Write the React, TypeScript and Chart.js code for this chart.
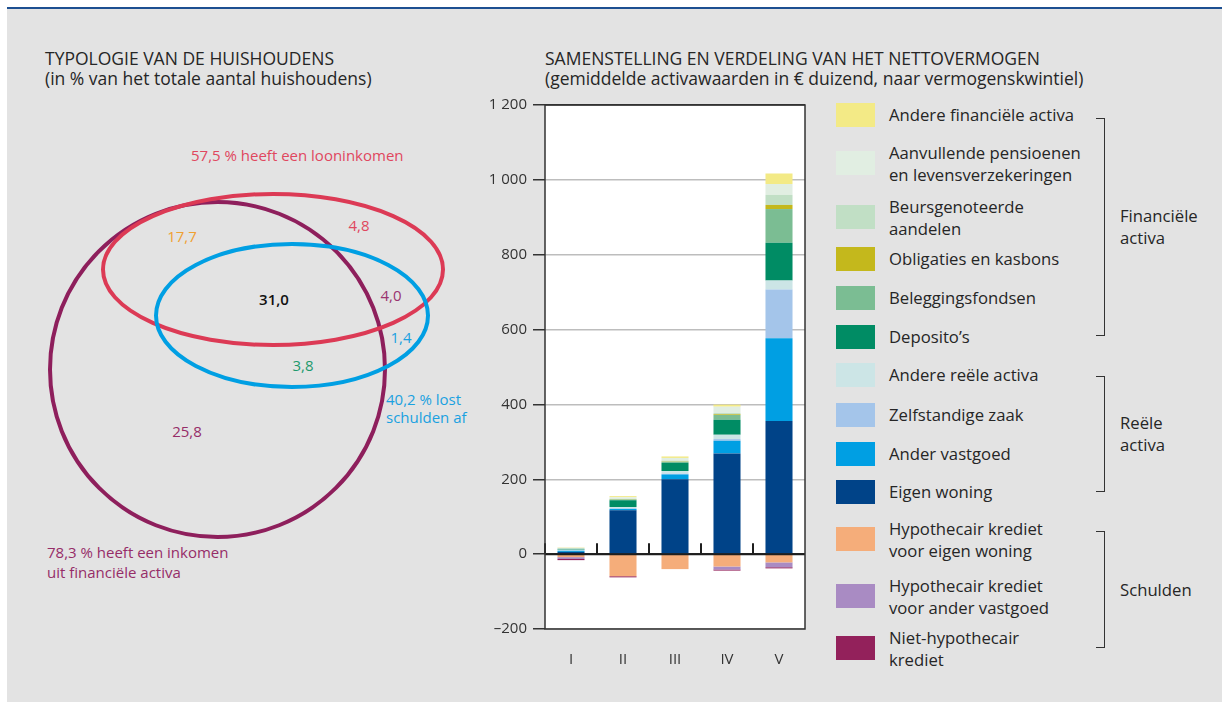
import React, { useEffect, useRef } from 'react';
import { Chart, registerables } from 'chart.js';

Chart.register(...registerables);

const FONT = '"Open Sans", "Noto Sans", sans-serif';
const INK = '#262626';

// Wealth quintiles on the category axis
const quintiles = ['I', 'II', 'III', 'IV', 'V'];

// Average asset values (€ thousand) per quintile, stacked upwards from zero
const eigenWoning = [6, 117, 200, 269, 356];
const anderVastgoed = [3, 4, 13, 34, 221];
const zelfstandigeZaak = [1, 1, 2, 4.5, 130];
const andereReeleActiva = [2, 4, 7, 11.5, 24];
const depositos = [2, 18, 22, 40, 101];
const beleggingsfondsen = [0.5, 2, 3, 13, 90];
const obligaties = [0, 1, 1, 2, 11];
const beursgenoteerdeAandelen = [0.5, 1, 2, 3, 27];
const aanvullendePensioenen = [2, 4, 7, 17, 29];
const andereFinancieleActiva = [1, 3, 4, 5.5, 28];

// Debts (€ thousand), stacked downwards from zero
const hypoEigenWoning = [-8, -59, -40, -33, -22];
const hypoAnderVastgoed = [-5, 0, 0, -8, -13];
const nietHypothecair = [-3, -3, 0, -3, -3];

const yTicks = [-200, 0, 200, 400, 600, 800, 1000, 1200];

// Household typology shares (%)
const shareLoon = 57.5;
const shareSchulden = 40.2;
const shareFinInkomen = 78.3;
const vennRegions = [17.7, 4.8, 31.0, 4.0, 1.4, 3.8, 25.8];

type Series = { label: string; lines: string[]; color: string; data: number[] };

// Stack order: first entry sits nearest to the zero line
const series: Series[] = [
  { label: 'Eigen woning', lines: ['Eigen woning'], color: '#004388', data: eigenWoning },
  { label: 'Ander vastgoed', lines: ['Ander vastgoed'], color: '#009fe3', data: anderVastgoed },
  { label: 'Zelfstandige zaak', lines: ['Zelfstandige zaak'], color: '#a4c5ea', data: zelfstandigeZaak },
  { label: 'Andere reële activa', lines: ['Andere reële activa'], color: '#cce5e6', data: andereReeleActiva },
  { label: 'Deposito’s', lines: ['Deposito’s'], color: '#008c64', data: depositos },
  { label: 'Beleggingsfondsen', lines: ['Beleggingsfondsen'], color: '#7bbd93', data: beleggingsfondsen },
  { label: 'Obligaties en kasbons', lines: ['Obligaties en kasbons'], color: '#c4b81c', data: obligaties },
  { label: 'Beursgenoteerde aandelen', lines: ['Beursgenoteerde', 'aandelen'], color: '#c1dfc5', data: beursgenoteerdeAandelen },
  { label: 'Aanvullende pensioenen en levensverzekeringen', lines: ['Aanvullende pensioenen', 'en levensverzekeringen'], color: '#e1eee2', data: aanvullendePensioenen },
  { label: 'Andere financiële activa', lines: ['Andere financiële activa'], color: '#f3ea86', data: andereFinancieleActiva },
  { label: 'Hypothecair krediet voor eigen woning', lines: ['Hypothecair krediet', 'voor eigen woning'], color: '#f5ad7a', data: hypoEigenWoning },
  { label: 'Hypothecair krediet voor ander vastgoed', lines: ['Hypothecair krediet', 'voor ander vastgoed'], color: '#a98bc3', data: hypoAnderVastgoed },
  { label: 'Niet-hypothecair krediet', lines: ['Niet-hypothecair', 'krediet'], color: '#93215b', data: nietHypothecair },
];

// Legend reads top to bottom: financial assets, real assets, debts
const legendOrder = [9, 8, 7, 6, 5, 4, 3, 2, 1, 0, 10, 11, 12];
const legendRowTops = [103, 151, 205, 247, 286, 325, 363, 403, 442, 480, 527, 584, 636];

const groups = [
  { lines: ['Financiële', 'activa'], top: 118, bottom: 336 },
  { lines: ['Reële', 'activa'], top: 376, bottom: 492 },
  { lines: ['Schulden'], top: 531, bottom: 648 },
];

const fmtShare = (v: number) => v.toFixed(1).replace('.', ',');
const fmtTick = (v: number) => {
  const abs = Math.abs(v);
  const s = abs >= 1000 ? `${Math.floor(abs / 1000)} ${String(abs % 1000).padStart(3, '0')}` : String(abs);
  return v < 0 ? `–${s}` : s;
};

const plotBackground = {
  id: 'plotBackground',
  beforeDraw(chart: any) {
    const { ctx, chartArea: a } = chart;
    ctx.save();
    ctx.fillStyle = '#ffffff';
    ctx.fillRect(a.left, a.top, a.right - a.left, a.bottom - a.top);
    ctx.restore();
  },
};

const frameAndTicks = {
  id: 'frameAndTicks',
  afterDatasetsDraw(chart: any) {
    const { ctx, chartArea: a, scales } = chart;
    const x = scales.x;
    const y0 = scales.y.getPixelForValue(0);
    ctx.save();
    ctx.strokeStyle = '#1e1e1e';
    // zero line
    ctx.lineWidth = 2;
    ctx.beginPath();
    ctx.moveTo(a.left, y0);
    ctx.lineTo(a.right, y0);
    ctx.stroke();
    // category separators rising from the zero line
    for (let i = 0; i < quintiles.length - 1; i++) {
      const bx = (x.getPixelForValue(i) + x.getPixelForValue(i + 1)) / 2;
      ctx.beginPath();
      ctx.moveTo(bx, y0);
      ctx.lineTo(bx, y0 - 11);
      ctx.stroke();
    }
    ctx.beginPath();
    ctx.moveTo(a.left, y0);
    ctx.lineTo(a.left, y0 - 11);
    ctx.stroke();
    // plot frame
    ctx.lineWidth = 1.5;
    ctx.strokeStyle = '#333333';
    ctx.strokeRect(a.left, a.top, a.right - a.left, a.bottom - a.top);
    ctx.restore();
  },
};

function WealthChart() {
  const ref = useRef<HTMLCanvasElement | null>(null);
  useEffect(() => {
    if (!ref.current) return;
    const chart = new Chart(ref.current, {
      type: 'bar',
      data: {
        labels: quintiles,
        datasets: series.map((s) => ({
          label: s.label,
          data: s.data,
          backgroundColor: s.color,
          borderWidth: 0,
          barPercentage: 0.52,
          categoryPercentage: 1,
          stack: 'wealth',
        })),
      },
      options: {
        animation: false,
        responsive: false,
        maintainAspectRatio: false,
        layout: { padding: { top: 14, right: 10, bottom: 11, left: 0 } },
        plugins: { legend: { display: false }, tooltip: { enabled: false } },
        scales: {
          x: {
            stacked: true,
            grid: { display: false },
            border: { display: false },
            ticks: { color: '#333', font: { family: FONT, size: 15 }, padding: 14 },
            afterFit: (s: any) => {
              s.height = 40;
            },
          },
          y: {
            stacked: true,
            min: -200,
            max: 1200,
            afterBuildTicks: (s: any) => {
              s.ticks = yTicks.map((v) => ({ value: v }));
            },
            ticks: {
              color: '#333',
              font: { family: FONT, size: 15 },
              padding: 6,
              callback: (v: any) => fmtTick(Number(v)),
            },
            grid: {
              color: (c: any) => (c.tick && (c.tick.value === 1200 || c.tick.value === 0) ? '#333' : '#bdbdbd'),
              lineWidth: 1.5,
              tickColor: '#333',
              tickLength: 12,
              tickWidth: 1.5,
            },
            border: { display: false },
            afterFit: (s: any) => {
              s.width = 75;
            },
          },
        },
      },
      plugins: [plotBackground, frameAndTicks],
    });
    return () => chart.destroy();
  }, []);
  return (
    <canvas
      ref={ref}
      width={345}
      height={590}
      style={{ position: 'absolute', left: 470, top: 90, width: 345, height: 590 }}
    />
  );
}

function Text({ x, y, color = INK, size = 16, lh = 21, weight = 400, lines }: any) {
  return (
    <div
      style={{
        position: 'absolute',
        left: x,
        top: y,
        transform: 'translateY(-50%)',
        color,
        fontSize: size,
        lineHeight: `${lh}px`,
        fontWeight: weight,
        whiteSpace: 'pre',
      }}
    >
      {lines.join('\n')}
    </div>
  );
}

function Venn() {
  const labels = [
    { v: vennRegions[0], x: 182, y: 236, c: '#f0a032' },
    { v: vennRegions[1], x: 359, y: 225, c: '#e0475e' },
    { v: vennRegions[2], x: 274, y: 299, c: '#111111', w: 600 },
    { v: vennRegions[3], x: 391, y: 295, c: '#9a3470' },
    { v: vennRegions[4], x: 401, y: 337, c: '#1aa1e0' },
    { v: vennRegions[5], x: 303, y: 365, c: '#1d9a6c' },
    { v: vennRegions[6], x: 187, y: 431, c: '#962d68' },
  ];
  return (
    <svg width={470} height={600} style={{ position: 'absolute', left: 0, top: 0 }}>
      <circle cx={217.5} cy={369.5} r={167.5} fill="none" stroke="#8e1f5c" strokeWidth={4} />
      <ellipse cx={273} cy={269.5} rx={170} ry={75.5} fill="none" stroke="#dc3a55" strokeWidth={4} />
      <ellipse cx={292} cy={315.5} rx={136} ry={71.5} fill="none" stroke="#009fe3" strokeWidth={4} />
      {labels.map((l, i) => (
        <text
          key={i}
          x={l.x}
          y={l.y}
          textAnchor="middle"
          dominantBaseline="central"
          fill={l.c}
          fontFamily={FONT}
          fontSize={15}
          fontWeight={l.w || 400}
        >
          {fmtShare(l.v)}
        </text>
      ))}
    </svg>
  );
}

export default function App() {
  return (
    <div
      style={{
        position: 'absolute',
        left: 0,
        top: 0,
        width: 1222,
        height: 702,
        background: '#ffffff',
        fontFamily: FONT,
        overflow: 'hidden',
      }}
    >
      <div style={{ position: 'absolute', left: 7, top: 7, width: 1215, height: 2, background: '#1d4f91' }} />
      <div style={{ position: 'absolute', left: 7, top: 9, width: 1215, height: 693, background: '#e3e3e3' }} />

      <Text x={45} y={68} size={17.5} lh={20} lines={['TYPOLOGIE VAN DE HUISHOUDENS', '(in % van het totale aantal huishoudens)']} />
      <Text
        x={545}
        y={68}
        size={17.5}
        lh={20}
        lines={['SAMENSTELLING EN VERDELING VAN HET NETTOVERMOGEN', '(gemiddelde activawaarden in € duizend, naar vermogenskwintiel)']}
      />

      <Venn />
      <Text x={191} y={155} size={15} color="#e0475e" lines={[`${fmtShare(shareLoon)} % heeft een looninkomen`]} />
      <Text x={386} y={408} size={15} lh={18} color="#1aa1e0" lines={[`${fmtShare(shareSchulden)} % lost`, 'schulden af']} />
      <Text
        x={47}
        y={562}
        size={15}
        lh={20}
        color="#962d68"
        lines={[`${fmtShare(shareFinInkomen)} % heeft een inkomen`, 'uit financiële activa']}
      />

      <WealthChart />

      {legendOrder.map((idx, row) => {
        const s = series[idx];
        const top = legendRowTops[row];
        return (
          <React.Fragment key={s.label}>
            <div style={{ position: 'absolute', left: 836, top, width: 39, height: 24, background: s.color }} />
            <Text x={889} y={top + 12} size={16.7} lh={21.5} lines={s.lines} />
          </React.Fragment>
        );
      })}

      {groups.map((g) => (
        <React.Fragment key={g.lines.join(' ')}>
          <div
            style={{
              position: 'absolute',
              left: 1096,
              top: g.top,
              width: 9,
              height: g.bottom - g.top,
              borderTop: '1.5px solid #333',
              borderRight: '1.5px solid #333',
              borderBottom: '1.5px solid #333',
              boxSizing: 'border-box',
            }}
          />
          <Text x={1120} y={(g.top + g.bottom) / 2} size={16.7} lh={22} lines={g.lines} />
        </React.Fragment>
      ))}
    </div>
  );
}
